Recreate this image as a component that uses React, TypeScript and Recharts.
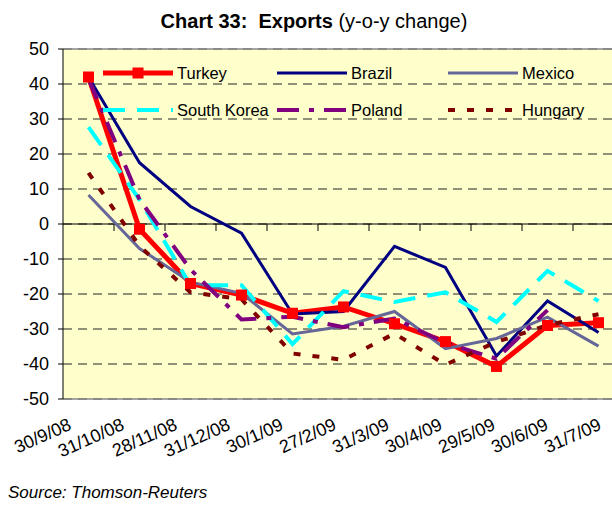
import React from 'react';
import { LineChart, Line, XAxis, YAxis, CartesianGrid, ReferenceLine } from 'recharts';

const categories = ['30/9/08', '31/10/08', '28/11/08', '31/12/08', '30/1/09', '27/2/09', '31/3/09', '30/4/09', '29/5/09', '30/6/09', '31/7/09'];
const turkey = [42, -1.5, -17, -20.3, -25.5, -23.7, -28.5, -33.6, -40.7, -29, -28.2];
const brazil = [42, 17.5, 5, -2.6, -25.7, -25, -6.4, -12.4, -37.7, -22, -31];
const mexico = [8.3, -7, -16.6, -19.8, -31.4, -29.2, -25, -35.6, -32.7, -26.6, -34.9];
const southKorea = [27.7, 7, -17.5, -17.5, -34.3, -19.2, -22.3, -19.5, -28, -13.4, -22];
const poland = [41.5, 7, -13, -27.3, -26.5, -29.5, -27, -34, -38.5, -24.6, null];
const hungary = [14.6, -6.3, -19.5, -21.5, -37, -38.8, -31.3, -40.2, -33.7, -28.9, -25.8];
const yTicks = [50, 40, 30, 20, 10, 0, -10, -20, -30, -40, -50];

const data = categories.map((date, i) => ({
  date,
  turkey: turkey[i],
  brazil: brazil[i],
  mexico: mexico[i],
  southKorea: southKorea[i],
  poland: poland[i],
  hungary: hungary[i],
}));

const FONT = '"Liberation Sans", Arial, sans-serif';

type S = { key: string; name: string; color: string; width: number; dash?: string; marker?: boolean };
const series: S[] = [
  { key: 'turkey', name: 'Turkey', color: '#FF0000', width: 5, marker: true },
  { key: 'brazil', name: 'Brazil', color: '#000080', width: 3 },
  { key: 'mexico', name: 'Mexico', color: '#666699', width: 3 },
  { key: 'southKorea', name: 'South Korea', color: '#00FFFF', width: 4, dash: '22 12' },
  { key: 'poland', name: 'Poland', color: '#800080', width: 4, dash: '22 10 5 10' },
  { key: 'hungary', name: 'Hungary', color: '#800000', width: 4, dash: '7 12' },
];

const SquareDot = (p: any) => {
  if (p.cx == null || p.cy == null) return <g key={p.index} />;
  return <rect key={p.index} x={p.cx - 5.5} y={p.cy - 5.5} width={11} height={11} fill="#FF0000" />;
};

const XTick = (p: any) => {
  const { x, y, payload, index } = p;
  const i = typeof index === 'number' ? index : categories.indexOf(payload.value);
  return (
    <g transform={`translate(${x - 16 + 2 * i},${y + 30}) rotate(-24)`}>
      <text x={0} y={0} textAnchor="end" fontSize={18} fontFamily={FONT} fill="#000">
        {payload.value}
      </text>
    </g>
  );
};

const ZeroAxis = (p: any) => {
  const { x1, x2, y1 } = p;
  const n = categories.length;
  const step = (x2 - x1) / n;
  const ticks = [];
  for (let k = 1; k < n; k++) {
    const tx = x1 + step * k;
    ticks.push(<line key={k} x1={tx} x2={tx} y1={y1} y2={y1 + 7} stroke="#000" strokeWidth={1} />);
  }
  return (
    <g>
      <line x1={x1} x2={x2} y1={y1} y2={y1} stroke="#000" strokeWidth={1} />
      {ticks}
    </g>
  );
};

const Legend = () => {
  const cols = [103, 277, 448];
  const rows = [73, 110];
  return (
    <g>
      {series.map((s, i) => {
        const lx = cols[i % 3];
        const ly = rows[Math.floor(i / 3)];
        return (
          <g key={s.key}>
            <line x1={lx} x2={lx + 70} y1={ly} y2={ly} stroke={s.color} strokeWidth={s.width} strokeDasharray={s.dash} />
            {s.marker && <rect x={lx + 35 - 5.5} y={ly - 5.5} width={11} height={11} fill={s.color} />}
            <text x={lx + 74} y={ly + 6} fontSize={16.5} fontFamily={FONT} fill="#000">{s.name}</text>
          </g>
        );
      })}
    </g>
  );
};

export default function App() {
  return (
    <div style={{ position: 'absolute', left: 0, top: 0, width: 612, height: 505, overflow: 'hidden', background: '#fff' }}>
      <LineChart width={640} height={505} data={data} margin={{ top: 49, right: 16, bottom: 46, left: 0 }}>
        <CartesianGrid vertical={false} fill="#FFFFCC" stroke="#222" strokeDasharray="9 6" />
        <XAxis
          dataKey="date"
          height={60}
          axisLine={false}
          tickLine={false}
          tickSize={0}
          tickMargin={0}
          interval={0}
          padding={{ left: 25.5, right: 25.5 }}
          tick={<XTick />}
        />
        <YAxis
          width={63}
          domain={[-50, 50]}
          ticks={yTicks}
          interval={0}
          axisLine={{ stroke: '#000', strokeWidth: 1 }}
          tickLine={{ stroke: '#000' }}
          tickSize={5}
          tickMargin={9}
          tick={{ fontSize: 18, fontFamily: FONT, fill: '#000' }}
        />
        <ReferenceLine y={50} stroke="#888" strokeWidth={1.5} />
        <ReferenceLine y={-50} stroke="#888" strokeWidth={1.5} />
        <ReferenceLine y={0} shape={<ZeroAxis />} />
        {series.map((s) => (
          <Line
            key={s.key}
            dataKey={s.key}
            name={s.name}
            stroke={s.color}
            strokeWidth={s.width}
            strokeDasharray={s.dash}
            dot={s.marker ? SquareDot : false}
            activeDot={false}
            isAnimationActive={false}
            connectNulls={false}
            strokeLinejoin="miter"
          />
        ))}
      </LineChart>
      <svg width={612} height={505} style={{ position: 'absolute', left: 0, top: 0, pointerEvents: 'none' }}>
        <Legend />
        <text x={314} y={28} textAnchor="middle" fontSize={20} fontFamily={FONT} fill="#000" style={{ whiteSpace: 'pre' }}>
          <tspan fontWeight="bold">Chart 33:  Exports</tspan>
          <tspan> (y-o-y change)</tspan>
        </text>
        <text x={8} y={498} fontSize={17} fontStyle="italic" fontFamily={FONT} fill="#000">
          Source: Thomson-Reuters
        </text>
      </svg>
    </div>
  );
}
